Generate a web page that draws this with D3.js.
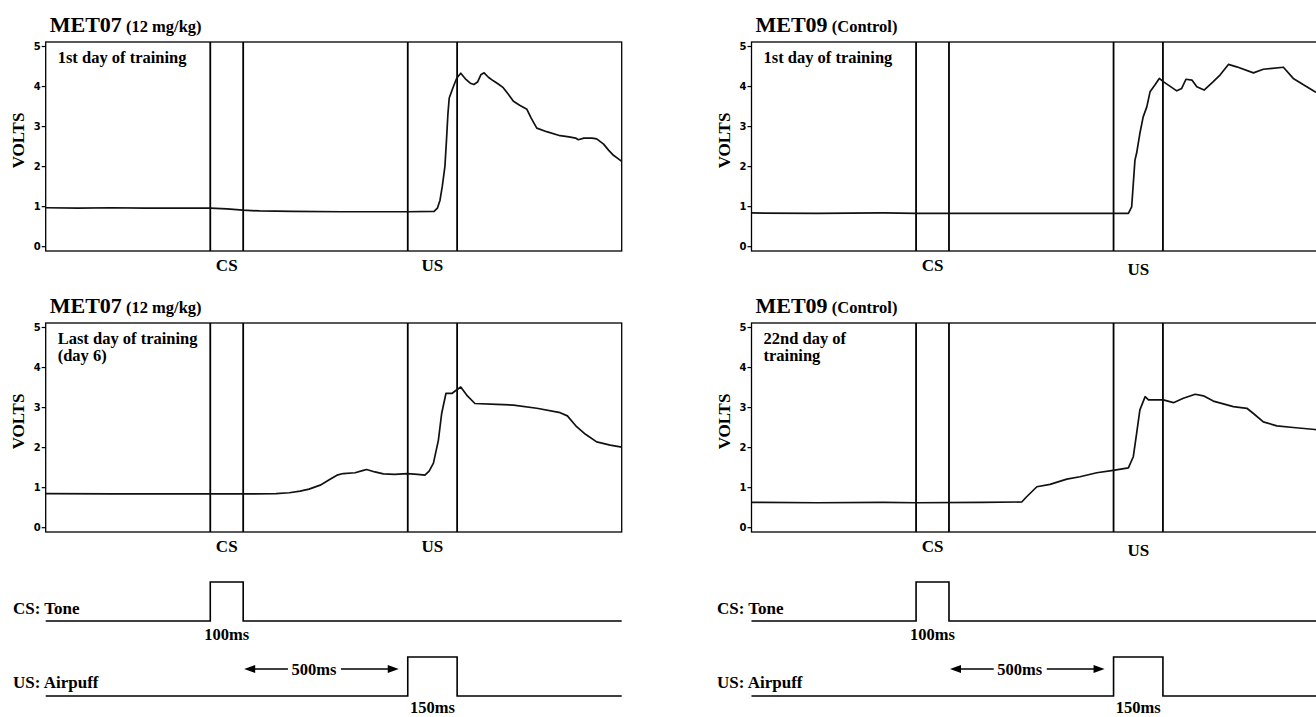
<!DOCTYPE html>
<html>
<head>
<meta charset="utf-8">
<script src="https://cdn.jsdelivr.net/npm/d3@7"></script>
<style>
  body { margin: 0; background: #fff; }
</style>
</head>
<body>
<div id="chart"></div>
<script>
// Eyeblink traces: [time in ms from CS onset, volts]
const met07Day1 = [
  [-500, 0.96], [-400, 0.95], [-300, 0.96], [-200, 0.95], [-100, 0.95], [0, 0.95],
  [50, 0.93], [100, 0.9], [150, 0.88], [250, 0.87], [400, 0.86], [550, 0.86],
  [600, 0.86], [680, 0.87], [690, 0.95], [698, 1.15], [705, 1.5], [713, 2.0],
  [718, 2.7], [722, 3.3], [726, 3.7], [737, 3.95], [749, 4.2], [761, 4.32],
  [775, 4.18], [790, 4.07], [801, 4.04], [812, 4.1], [822, 4.28], [832, 4.33],
  [845, 4.22], [860, 4.13], [875, 4.05], [890, 3.96], [905, 3.8], [921, 3.62],
  [940, 3.52], [962, 3.42], [975, 3.2], [992, 2.95], [1022, 2.86], [1063, 2.76],
  [1090, 2.73], [1110, 2.7], [1118, 2.66], [1135, 2.7], [1160, 2.7], [1174, 2.68],
  [1195, 2.55], [1210, 2.4], [1225, 2.27], [1240, 2.18], [1250, 2.12]
];

const met07Day6 = [
  [-500, 0.84], [-300, 0.83], [-100, 0.83], [0, 0.83], [100, 0.83], [200, 0.84],
  [240, 0.86], [273, 0.9], [300, 0.95], [334, 1.05], [364, 1.2], [385, 1.3],
  [404, 1.34], [440, 1.36], [465, 1.42], [475, 1.44], [500, 1.38], [526, 1.33],
  [560, 1.32], [599, 1.34], [630, 1.32], [652, 1.3], [665, 1.4], [678, 1.6],
  [693, 2.17], [703, 2.84], [716, 3.34], [734, 3.34], [747, 3.42], [761, 3.5],
  [779, 3.3], [804, 3.09], [870, 3.07], [921, 3.05], [992, 2.97], [1063, 2.86],
  [1085, 2.78], [1113, 2.51], [1140, 2.32], [1174, 2.13], [1215, 2.05], [1250, 2.0]
];

const met09Day1 = [
  [-500, 0.83], [-300, 0.82], [-100, 0.83], [0, 0.82], [200, 0.82], [400, 0.82],
  [600, 0.82], [645, 0.82], [655, 0.98], [665, 2.15], [670, 2.32], [680, 2.82],
  [690, 3.23], [701, 3.48], [711, 3.86], [726, 4.03], [739, 4.19], [751, 4.11],
  [792, 3.88], [807, 3.94], [820, 4.17], [838, 4.15], [853, 3.98], [875, 3.9],
  [903, 4.11], [924, 4.28], [949, 4.54], [974, 4.48], [1025, 4.33], [1055, 4.42],
  [1116, 4.47], [1146, 4.19], [1177, 4.03], [1212, 3.86], [1250, 3.7]
];

const met09Day22 = [
  [-500, 0.62], [-300, 0.61], [-100, 0.62], [0, 0.61], [200, 0.62], [321, 0.63],
  [336, 0.76], [367, 1.01], [407, 1.07], [458, 1.2], [498, 1.26], [549, 1.36],
  [599, 1.42], [645, 1.48], [660, 1.76], [670, 2.34], [680, 2.93], [696, 3.26],
  [706, 3.18], [751, 3.18], [782, 3.11], [812, 3.22], [848, 3.32], [873, 3.28],
  [903, 3.15], [964, 3.01], [1005, 2.97], [1025, 2.84], [1055, 2.63], [1096, 2.53],
  [1146, 2.49], [1212, 2.44], [1250, 2.42]
];

const voltTicks = [0, 1, 2, 3, 4, 5];
const timeDomain = [-500, 1250];
const csPulse = [0, 100];     // tone on / off (ms)
const usPulse = [600, 750];   // airpuff on / off (ms)

const width = 1316;
const height = 717;
const plotW = 576;
const plotH = 209;

const svg = d3.select('#chart')
  .append('svg')
  .attr('width', width)
  .attr('height', height)
  .style('font-family', '"Liberation Serif", "Times New Roman", serif')
  .style('font-weight', 'bold');

// columns / rows of the figure
const columns = [
  { x0: 45.7, subject: 'MET07', dose: ' (12 mg/kg)', usShift: 0, stimLabelX: 13 },
  { x0: 751.5, subject: 'MET09', dose: ' (Control)', usShift: 4, stimLabelX: 717 }
];
const rows = [42, 323];

const panels = [
  { col: 0, row: 0, data: met07Day1, label: ['1st day of training'] },
  { col: 0, row: 1, data: met07Day6, label: ['Last day of training', '(day 6)'] },
  { col: 1, row: 0, data: met09Day1, label: ['1st day of training'] },
  { col: 1, row: 1, data: met09Day22, label: ['22nd day of', 'training'] }
];

panels.forEach(p => {
  const c = columns[p.col];
  const y0 = rows[p.row];

  const x = d3.scaleLinear().domain(timeDomain).range([c.x0, c.x0 + plotW]);
  const y = d3.scaleLinear().domain([-0.12, 5.1]).range([y0 + plotH, y0]);

  const g = svg.append('g');

  // title
  const title = g.append('text')
    .attr('x', c.x0 + 4)
    .attr('y', y0 - 10.5);
  title.append('tspan').attr('font-size', 22).text(c.subject);
  title.append('tspan').attr('font-size', 16.5).text(c.dose);

  // frame
  g.append('rect')
    .attr('x', c.x0)
    .attr('y', y0)
    .attr('width', plotW)
    .attr('height', plotH)
    .attr('fill', 'none')
    .attr('stroke', '#000')
    .attr('stroke-width', 1.3);

  // y axis
  const yAxis = g.append('g')
    .attr('transform', `translate(${c.x0},0)`)
    .call(d3.axisLeft(y).tickValues(voltTicks).tickSize(4).tickPadding(1).tickFormat(d3.format('d')));
  yAxis.select('.domain').remove();
  yAxis.selectAll('line').attr('stroke', '#000').attr('stroke-width', 1.2);
  yAxis.selectAll('text')
    .attr('fill', '#000')
    .style('font-family', '"DejaVu Sans", sans-serif')
    .style('font-weight', 'bold')
    .style('font-size', '10px');

  // VOLTS
  g.append('text')
    .attr('transform', `translate(${c.x0 - 22},${y0 + plotH / 2 - 6}) rotate(-90)`)
    .attr('text-anchor', 'middle')
    .attr('font-size', 17)
    .text('VOLTS');

  // CS / US markers
  csPulse.concat(usPulse).forEach(t => {
    g.append('line')
      .attr('x1', x(t)).attr('x2', x(t))
      .attr('y1', y0).attr('y2', y0 + plotH)
      .attr('stroke', '#000')
      .attr('stroke-width', 1.8);
  });

  // trace
  g.append('path')
    .datum(p.data)
    .attr('fill', 'none')
    .attr('stroke', '#111')
    .attr('stroke-width', 1.7)
    .attr('stroke-linejoin', 'round')
    .attr('d', d3.line().x(d => x(d[0])).y(d => y(d[1])));

  // inner label
  const lab = g.append('text')
    .attr('x', c.x0 + 12)
    .attr('y', y0 + 21)
    .attr('font-size', 16.5);
  p.label.forEach((s, i) => {
    lab.append('tspan').attr('x', c.x0 + 12).attr('dy', i ? 17 : 0).text(s);
  });

  // CS / US under the axis
  g.append('text')
    .attr('x', x(d3.mean(csPulse)))
    .attr('y', y0 + plotH + 20)
    .attr('text-anchor', 'middle')
    .attr('font-size', 17)
    .text('CS');
  g.append('text')
    .attr('x', x(d3.mean(usPulse)))
    .attr('y', y0 + plotH + 20 + c.usShift)
    .attr('text-anchor', 'middle')
    .attr('font-size', 17)
    .text('US');
});

// stimulus timing diagrams
const stimRows = [
  { name: 'CS: Tone', pulse: csPulse, base: 621, top: 582, labelY: 614, msY: 640 },
  { name: 'US: Airpuff', pulse: usPulse, base: 696, top: 657, labelY: 688, msY: 713 }
];

columns.forEach(c => {
  const x = d3.scaleLinear().domain(timeDomain).range([c.x0, c.x0 + plotW]);
  const g = svg.append('g');

  stimRows.forEach(s => {
    const pts = [
      [timeDomain[0], s.base], [s.pulse[0], s.base], [s.pulse[0], s.top],
      [s.pulse[1], s.top], [s.pulse[1], s.base], [timeDomain[1], s.base]
    ];
    g.append('path')
      .attr('d', d3.line().x(d => x(d[0])).y(d => d[1])(pts))
      .attr('fill', 'none')
      .attr('stroke', '#000')
      .attr('stroke-width', 1.6);

    g.append('text')
      .attr('x', c.stimLabelX)
      .attr('y', s.labelY)
      .attr('font-size', 17)
      .text(s.name);

    g.append('text')
      .attr('x', x(d3.mean(s.pulse)))
      .attr('y', s.msY)
      .attr('text-anchor', 'middle')
      .attr('font-size', 16.5)
      .text((s.pulse[1] - s.pulse[0]) + 'ms');
  });

  // 500 ms interval arrow
  const ay = 669;
  const mid = 315;
  g.append('text')
    .attr('x', x(mid))
    .attr('y', ay + 5.5)
    .attr('text-anchor', 'middle')
    .attr('font-size', 16.5)
    .text((usPulse[0] - csPulse[1]) + 'ms');

  const left = x(csPulse[1]) + 1;
  const right = x(usPulse[0]) - 9;
  g.append('line')
    .attr('x1', left + 8).attr('x2', x(mid) - 26)
    .attr('y1', ay).attr('y2', ay)
    .attr('stroke', '#000').attr('stroke-width', 1.4);
  g.append('line')
    .attr('x1', x(mid) + 27).attr('x2', right - 8)
    .attr('y1', ay).attr('y2', ay)
    .attr('stroke', '#000').attr('stroke-width', 1.4);
  g.append('path')
    .attr('d', `M${left},${ay} L${left + 11},${ay - 4} L${left + 11},${ay + 4} Z`)
    .attr('fill', '#000');
  g.append('path')
    .attr('d', `M${right},${ay} L${right - 11},${ay - 4} L${right - 11},${ay + 4} Z`)
    .attr('fill', '#000');
});
</script>
</body>
</html>
